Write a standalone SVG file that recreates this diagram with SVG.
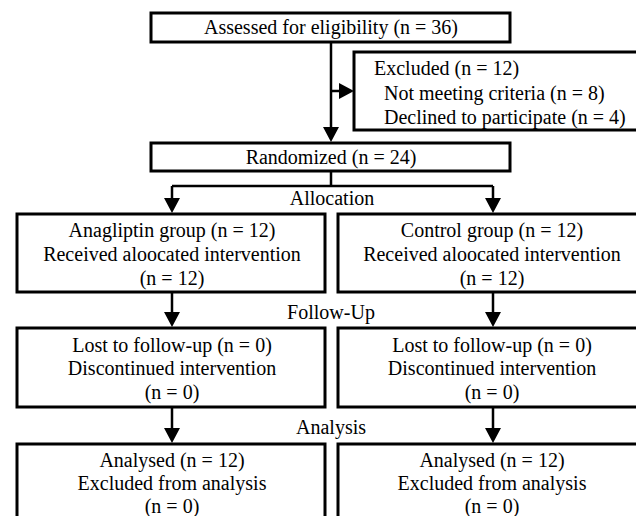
<svg xmlns="http://www.w3.org/2000/svg" width="636" height="516" viewBox="0 0 636 516">
<defs>
<style>
.box{fill:#fff;stroke:#000;stroke-width:3}
.t{font-family:"Liberation Serif","Times New Roman",serif;font-size:20px;fill:#000;text-anchor:middle}
.l{text-anchor:start}
.c{fill:none;stroke:#000;stroke-width:2.5}
.h{fill:#000}
</style>
</defs>
<rect width="636" height="516" fill="#fff"/>
<g id="connectors">
<path class="c" d="M331,42 V128"/>
<path class="c" d="M331,91 H340"/>
<path class="h" d="M339,83 L354,91 L339,99 Z"/>
<path class="h" d="M323,127 L339,127 L331,142 Z"/>
<path class="c" d="M331,171 V186 M172,186 H493 M172,186 V200 M493,186 V200"/>
<path class="h" d="M164,198 L180,198 L172,213 Z"/>
<path class="h" d="M485,198 L501,198 L493,213 Z"/>
<path class="c" d="M172,292 V314 M493,292 V314"/>
<path class="h" d="M164,312 L180,312 L172,327 Z"/>
<path class="h" d="M485,312 L501,312 L493,327 Z"/>
<path class="c" d="M172,407 V430 M493,407 V430"/>
<path class="h" d="M164,428 L180,428 L172,443 Z"/>
<path class="h" d="M485,428 L501,428 L493,443 Z"/>
</g>
<g id="assessed">
<rect class="box" x="151" y="13" width="359" height="29"/>
<text class="t" x="331" y="34">Assessed for eligibility (n = 36)</text>
</g>
<g id="excluded">
<rect class="box" x="354" y="52" width="310" height="78"/>
<text class="t l" x="374" y="75">Excluded (n = 12)</text>
<text class="t l" x="384" y="100">Not meeting criteria (n = 8)</text>
<text class="t l" x="384" y="124">Declined to participate (n = 4)</text>
</g>
<g id="randomized">
<rect class="box" x="151" y="143" width="359" height="28"/>
<text class="t" x="331" y="164">Randomized (n = 24)</text>
</g>
<text class="t" x="332" y="205">Allocation</text>
<g id="anagliptin">
<rect class="box" x="17" y="214" width="308" height="78"/>
<text class="t" x="172" y="237">Anagliptin group (n = 12)</text>
<text class="t" x="172" y="261">Received aloocated intervention</text>
<text class="t" x="172" y="285">(n = 12)</text>
</g>
<g id="control">
<rect class="box" x="338" y="214" width="320" height="78"/>
<text class="t" x="492" y="237">Control group (n = 12)</text>
<text class="t" x="492" y="261">Received aloocated intervention</text>
<text class="t" x="492" y="285">(n = 12)</text>
</g>
<text class="t" x="331" y="319">Follow-Up</text>
<g id="followup-a">
<rect class="box" x="17" y="328" width="308" height="79"/>
<text class="t" x="172" y="352">Lost to follow-up (n = 0)</text>
<text class="t" x="172" y="375">Discontinued intervention</text>
<text class="t" x="172" y="399">(n = 0)</text>
</g>
<g id="followup-c">
<rect class="box" x="338" y="328" width="320" height="79"/>
<text class="t" x="492" y="352">Lost to follow-up (n = 0)</text>
<text class="t" x="492" y="375">Discontinued intervention</text>
<text class="t" x="492" y="399">(n = 0)</text>
</g>
<text class="t" x="331" y="434">Analysis</text>
<g id="analysis-a">
<rect class="box" x="17" y="444" width="308" height="79"/>
<text class="t" x="172" y="467">Analysed (n = 12)</text>
<text class="t" x="172" y="490">Excluded from analysis</text>
<text class="t" x="172" y="513">(n = 0)</text>
</g>
<g id="analysis-c">
<rect class="box" x="338" y="444" width="320" height="79"/>
<text class="t" x="492" y="467">Analysed (n = 12)</text>
<text class="t" x="492" y="490">Excluded from analysis</text>
<text class="t" x="492" y="513">(n = 0)</text>
</g>
</svg>
